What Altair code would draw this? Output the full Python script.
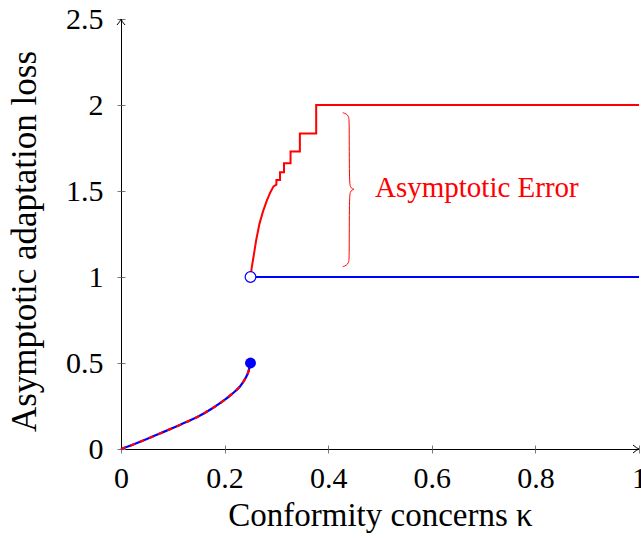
import altair as alt
import pandas as pd

# ---------------- data ----------------
# lower branch (kappa < 1/4): blue solid and red dashed coincide
low_x = [0, 0.025, 0.05, 0.075, 0.1, 0.125, 0.15, 0.175, 0.2, 0.215, 0.23, 0.24, 0.246, 0.25]
low_y = [0, 0.028, 0.058, 0.09, 0.122, 0.155, 0.19, 0.234, 0.285, 0.322, 0.365, 0.41, 0.45, 0.5]

# upper blue branch
blue_up_x = [0.25, 1.0]
blue_up_y = [1.0, 1.0]

# upper red branch (curve then staircase, then flat at 2)
red_up_x = [0.25, 0.2525, 0.2557, 0.261, 0.2673, 0.274, 0.2815, 0.288, 0.2944, 0.3,
            0.3, 0.307, 0.307, 0.3147, 0.3147, 0.3273, 0.3273, 0.3453, 0.3453, 0.3768, 0.3768, 1.0]
red_up_y = [1.0, 1.057, 1.115, 1.215, 1.309, 1.38, 1.444, 1.49, 1.527, 1.537,
            1.564, 1.564, 1.609, 1.609, 1.661, 1.661, 1.73, 1.73, 1.835, 1.835, 2.0, 2.0]

# markers
dot_filled = {"x": [0.25], "y": [0.5]}
dot_open = {"x": [0.25], "y": [1.0]}

# annotation brace and label
brace_x = [0.428, 0.4353, 0.4396, 0.4407, 0.4407, 0.443, 0.4459, 0.4517,
           0.4459, 0.443, 0.4407, 0.4407, 0.4396, 0.4353, 0.428]
brace_y = [1.955, 1.949, 1.933, 1.913, 1.547, 1.523, 1.513, 1.510,
           1.506, 1.497, 1.473, 1.105, 1.084, 1.067, 1.060]
note_text = ["Asymptotic Error"]
note_x = [0.4903]
note_y = [1.4634]

x_ticks = [0, 0.2, 0.4, 0.6, 0.8, 1]
y_ticks = [0, 0.5, 1, 1.5, 2, 2.5]
x_title = "Conformity concerns κ"
y_title = "Asymptotic adaptation loss"

# ---------------- layout ----------------
W, H = 518, 430
FONT = "Liberation Serif"
BLUE = "#0000ff"
RED = "#ff0000"
TICK = "#7a7a7a"

def frame(xs, ys):
    return pd.DataFrame({"x": xs, "y": ys, "i": list(range(len(xs)))})

df_low = frame(low_x, low_y)
df_blue_up = frame(blue_up_x, blue_up_y)
df_red_up = frame(red_up_x, red_up_y)
df_brace = frame(brace_x, brace_y)
df_note = pd.DataFrame({"x": note_x, "y": note_y, "t": note_text})
df_dot = pd.DataFrame(dot_filled)
df_open = pd.DataFrame(dot_open)
df_xarrow = pd.DataFrame({"x": [x_ticks[-1]], "y": [y_ticks[0]]})
df_yarrow = pd.DataFrame({"x": [x_ticks[0]], "y": [y_ticks[-1]]})

xs = alt.Scale(domain=[0, 1], nice=False, zero=False)
ys = alt.Scale(domain=[0, 2.5], nice=False, zero=False)

def X(axis=None):
    return alt.X("x:Q", scale=xs, axis=axis)

def Y(axis=None):
    return alt.Y("y:Q", scale=ys, axis=axis)

x_axis = alt.Axis(
    orient="bottom", values=x_ticks, format="~g", title=x_title, grid=False,
    domainColor="black", domainWidth=1, tickColor=TICK, tickSize=4, tickWidth=1,
    labelFont=FONT, labelFontSize=30, labelColor="black", labelPadding=10,
    labelFlush=False, labelOverlap=False, labelBaseline="top",
    titleFont=FONT, titleFontSize=33, titleFontWeight="normal", titleColor="black",
    titleX=259, titleY=76, titleAlign="center", titleBaseline="alphabetic",
)
y_axis = alt.Axis(
    orient="left", values=y_ticks, format="~g", title=y_title, grid=False,
    domainColor="black", domainWidth=1, tickColor=TICK, tickSize=4, tickWidth=1,
    labelFont=FONT, labelFontSize=30, labelColor="black", labelPadding=14,
    labelFlush=False, labelOverlap=False, labelBaseline="middle",
    titleFont=FONT, titleFontSize=35, titleFontWeight="normal", titleColor="black",
    titleX=-86, titleY=222, titleAngle=270, titleAlign="center", titleBaseline="alphabetic",
)
# inward half of the crossing ticks
x_axis_in = alt.Axis(orient="top", offset=-H, values=x_ticks, labels=False, domain=False,
                     grid=False, title=None, tickColor=TICK, tickSize=4, tickWidth=1)
y_axis_in = alt.Axis(orient="right", offset=-W, values=y_ticks, labels=False, domain=False,
                     grid=False, title=None, tickColor=TICK, tickSize=4, tickWidth=1)

base_axes = alt.Chart(df_low).mark_line(opacity=0).encode(x=X(x_axis), y=Y(y_axis))
inner_ticks = alt.Chart(df_low).mark_line(opacity=0).encode(x=X(x_axis_in), y=Y(y_axis_in))

blue_low = alt.Chart(df_low).mark_line(color=BLUE, strokeWidth=2.2, interpolate="monotone").encode(
    x=X(), y=Y(), order="i:Q")
red_low = alt.Chart(df_low).mark_line(color=RED, strokeWidth=2.2, strokeDash=[5, 5],
                                      interpolate="monotone").encode(
    x=X(), y=Y(), order="i:Q")
blue_up = alt.Chart(df_blue_up).mark_line(color=BLUE, strokeWidth=2).encode(
    x=X(), y=Y(), order="i:Q")
red_up = alt.Chart(df_red_up).mark_line(color=RED, strokeWidth=2).encode(
    x=X(), y=Y(), order="i:Q")
brace = alt.Chart(df_brace).mark_line(color=RED, strokeWidth=1, interpolate="basis").encode(
    x=X(), y=Y(), order="i:Q")
note = alt.Chart(df_note).mark_text(
    color=RED, font=FONT, fontSize=29, align="left", baseline="alphabetic").encode(
    x=X(), y=Y(), text="t:N")
dot = alt.Chart(df_dot).mark_point(
    shape="circle", filled=True, color=BLUE, size=120, opacity=1).encode(x=X(), y=Y())
open_dot = alt.Chart(df_open).mark_point(
    shape="circle", filled=True, fill="white", stroke=BLUE, strokeWidth=1.2,
    size=115, opacity=1, fillOpacity=1, strokeOpacity=1).encode(x=X(), y=Y())
x_arrow = alt.Chart(df_xarrow).mark_point(
    shape="M -1.5 -1 Q -0.6 -0.2 0 0 Q -0.6 0.2 -1.5 1", filled=False, stroke="black",
    strokeWidth=1, size=64, opacity=1).encode(x=X(), y=Y())
y_arrow = alt.Chart(df_yarrow).mark_point(
    shape="M -1 1.5 Q -0.2 0.6 0 0 Q 0.2 0.6 1 1.5", filled=False, stroke="black",
    strokeWidth=1, size=64, opacity=1).encode(x=X(), y=Y())

chart = alt.layer(
    base_axes, inner_ticks, blue_low, red_low, blue_up, red_up, brace, note,
    dot, open_dot, x_arrow, y_arrow,
).properties(
    width=W, height=H,
    padding={"left": 121, "top": 19, "right": 2, "bottom": 89},
    autosize=alt.AutoSizeParams(type="none"),
    background="white",
).configure_view(stroke=None)

chart.save("out.html", embed_options={"renderer": "svg", "actions": False})
